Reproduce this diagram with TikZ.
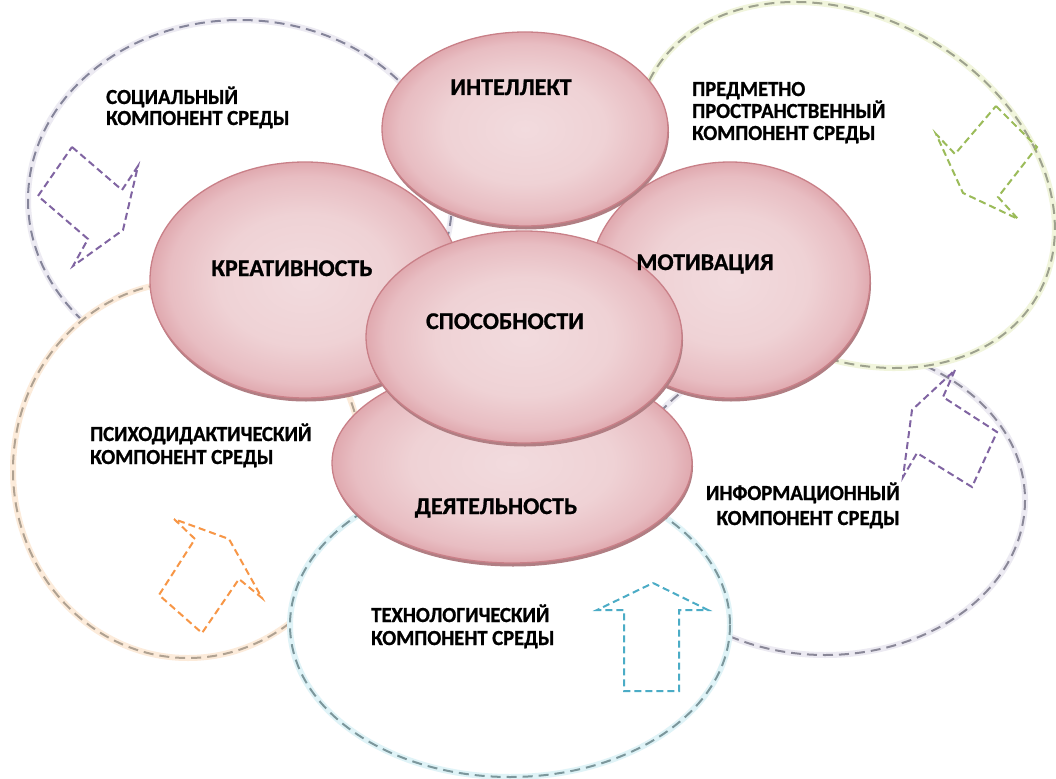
\documentclass[tikz,border=0pt]{standalone}
\usepackage{fontspec}
\setmainfont{Carlito}[BoldFeatures={FakeBold=0.9}]
\usetikzlibrary{shapes.geometric}
\definecolor{pkA}{HTML}{F2DBDE}
\definecolor{pkB}{HTML}{EFD2D5}
\definecolor{pkC}{HTML}{E8BDC2}
\definecolor{pkD}{HTML}{E0A9AF}
\definecolor{pkLine}{HTML}{C98088}
\definecolor{pkRim}{HTML}{B07E83}
\definecolor{socC}{HTML}{85859A}
\definecolor{socG}{HTML}{ECEAF2}
\definecolor{preC}{HTML}{9EA28E}
\definecolor{preG}{HTML}{F1F5DC}
\definecolor{psyC}{HTML}{B0A292}
\definecolor{psyG}{HTML}{FCEBDA}
\definecolor{tecC}{HTML}{7C979C}
\definecolor{tecG}{HTML}{DFF3F7}
\definecolor{infC}{HTML}{8A8898}
\definecolor{infG}{HTML}{ECEAF2}
\definecolor{arPurple}{HTML}{8064A2}
\definecolor{arGreen}{HTML}{9BBB59}
\definecolor{arOrange}{HTML}{F79646}
\definecolor{arTeal}{HTML}{4BACC6}
\pgfdeclareradialshading{pinkball}{\pgfpoint{0bp}{0bp}}{color(0bp)=(pkA); color(14bp)=(pkB); color(22bp)=(pkC); color(25bp)=(pkD); color(50bp)=(pkD)}
\tikzset{
  pinksty/.style={ellipse, draw=pkLine, line width=1.3pt, shade, shading=pinkball, inner sep=0pt},
  rimsty/.style={ellipse, fill=pkRim, draw=none, inner sep=0pt},
  lbl/.style={font=\bfseries\fontsize{21.5}{23}\selectfont\addfontfeature{FakeStretch=0.96}, inner sep=0pt},
  plbl/.style={font=\bfseries\fontsize{24}{26}\selectfont, inner sep=0pt},
  blockarrow/.style={draw=#1, line width=2pt, dash pattern=on 7pt off 4pt, line join=miter},
}
\newcommand\envEll[6]{%
  \begin{scope}[rotate around={#6:(#3)}]
    \fill[white] (#3) ellipse [x radius=#4, y radius=#5];
    \draw[draw=#2, line width=6pt] (#3) ellipse [x radius=#4, y radius=#5];
    \draw[draw=#1, line width=2pt, dash pattern=on 10pt off 6pt] (#3) ellipse [x radius=#4, y radius=#5];
  \end{scope}}
\newcommand\pinkEll[4]{%
  \node[rimsty, minimum width=#3pt, minimum height=#4pt] at ([shift={(1,3.5)}]#2) {};
  \node[pinksty, minimum width=#3pt, minimum height=#4pt] (#1) at (#2) {};}
\begin{document}
\begin{tikzpicture}[x=1pt, y=-1pt]
\useasboundingbox (0,0) rectangle (1056,778);
\fill[white] (0,0) rectangle (1056,778);
% environment ellipses
\envEll{infC}{infG}{825,500}{200}{155}{0}
\envEll{socC}{socG}{240,200}{212}{180}{0}
\envEll{preC}{preG}{845,185}{222}{168}{-30}
\envEll{psyC}{psyG}{188,470}{175}{188}{0}
\envEll{tecC}{tecG}{510,625}{220}{152}{0}
% dashed block arrows
\draw[blockarrow=arPurple] (72,147) -- (122,190) -- (138,166) -- (123,230) -- (73,266) -- (88,239) -- (38,196) -- cycle;
\draw[blockarrow=arGreen] (996,106) -- (1037,147) -- (998,197) -- (1018,219) -- (963,193) -- (936,134) -- (955,154) -- cycle;
\draw[blockarrow=arOrange] (174,519) -- (195,539) -- (159,595) -- (202,633) -- (239,579) -- (262,598) -- (229,539) -- cycle;
\draw[blockarrow=arPurple] (955,370) -- (943,397) -- (997,432) -- (972,487) -- (917,453) -- (903,477) -- (912,410) -- cycle;
\draw[blockarrow=arTeal] (653,583) -- (708,610) -- (679,610) -- (679,691) -- (624,691) -- (624,610) -- (597,610) -- cycle;
% pink ellipses
\pinkEll{deyat}{512,463}{360}{200}
\pinkEll{kreat}{305,280}{310}{236}
\pinkEll{motiv}{730,280}{280}{236}
\pinkEll{intel}{525,129}{286}{194}
\pinkEll{sposob}{524,337}{316}{212}
% labels in pink ellipses
\node[plbl, anchor=base] (tIntel) at (511,95) {ИНТЕЛЛЕКТ};
\node[plbl, anchor=base] (tKreat) at (292,276) {КРЕАТИВНОСТЬ};
\node[plbl, anchor=base] (tMotiv) at (705,270) {МОТИВАЦИЯ};
\node[plbl, anchor=base] (tSposob) at (505,329) {СПОСОБНОСТИ};
\node[plbl, anchor=base] (tDeyat) at (496,514) {ДЕЯТЕЛЬНОСТЬ};
% environment labels
\node[lbl, anchor=base west] (soc1) at (106,104) {СОЦИАЛЬНЫЙ};
\node[lbl, anchor=base west] (soc2) at (106,125) {КОМПОНЕНТ СРЕДЫ};
\node[lbl, anchor=base west] (pre1) at (692,96) {ПРЕДМЕТНО};
\node[lbl, anchor=base west] (pre2) at (692,118) {ПРОСТРАНСТВЕННЫЙ};
\node[lbl, anchor=base west] (pre3) at (692,140) {КОМПОНЕНТ СРЕДЫ};
\node[lbl, anchor=base west] (psy1) at (90,441) {ПСИХОДИДАКТИЧЕСКИЙ};
\node[lbl, anchor=base west] (psy2) at (90,464) {КОМПОНЕНТ СРЕДЫ};
\node[lbl, anchor=base east] (inf1) at (900,500) {ИНФОРМАЦИОННЫЙ};
\node[lbl, anchor=base east] (inf2) at (900,525) {КОМПОНЕНТ СРЕДЫ};
\node[lbl, anchor=base west] (tec1) at (371,622) {ТЕХНОЛОГИЧЕСКИЙ};
\node[lbl, anchor=base west] (tec2) at (371,645) {КОМПОНЕНТ СРЕДЫ};
\end{tikzpicture}
\end{document}
